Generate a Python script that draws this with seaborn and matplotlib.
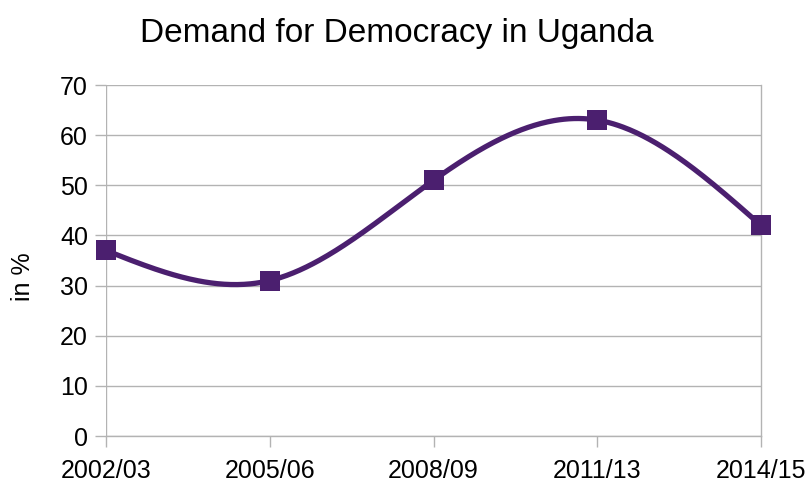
import numpy as np
import pandas as pd
import seaborn as sns
import matplotlib.pyplot as plt

periods = ["2002/03", "2005/06", "2008/09", "2011/13", "2014/15"]
demand = [37, 31, 51, 63, 42]

line_color = "#4b1f6f"
grid_color = "#b3b3b3"

sns.set_theme(style="white")
plt.rcParams['font.family'] = ['Liberation Sans', 'DejaVu Sans']
plt.rcParams['text.color'] = 'black'
plt.rcParams['axes.labelcolor'] = 'black'

df = pd.DataFrame({"pos": np.arange(len(periods)), "Period": periods, "Value": demand})


def natural_spline(x, y, n=400):
    # natural cubic spline through the points (smoothed line like the office chart)
    x = np.asarray(x, float)
    y = np.asarray(y, float)
    k = len(x)
    h = np.diff(x)
    A = np.zeros((k, k))
    b = np.zeros(k)
    A[0, 0] = A[-1, -1] = 1
    for i in range(1, k - 1):
        A[i, i - 1] = h[i - 1]
        A[i, i] = 2 * (h[i - 1] + h[i])
        A[i, i + 1] = h[i]
        b[i] = 3 * ((y[i + 1] - y[i]) / h[i] - (y[i] - y[i - 1]) / h[i - 1])
    c = np.linalg.solve(A, b)
    xs = np.linspace(x[0], x[-1], n)
    idx = np.clip(np.searchsorted(x, xs) - 1, 0, k - 2)
    dx = xs - x[idx]
    bb = (y[idx + 1] - y[idx]) / h[idx] - h[idx] * (2 * c[idx] + c[idx + 1]) / 3
    dd = (c[idx + 1] - c[idx]) / (3 * h[idx])
    ys = y[idx] + bb * dx + c[idx] * dx ** 2 + dd * dx ** 3
    return xs, ys


fig = plt.figure(figsize=(8.1, 4.83), dpi=100)
ax = fig.add_axes([0.1309, 0.0973, 0.8086, 0.7267])

xs, ys = natural_spline(df["pos"], df["Value"])
ax.plot(xs, ys, color=line_color, lw=3.8, solid_capstyle="round", zorder=3, clip_on=False)
sns.scatterplot(data=df, x="pos", y="Value", marker="s", s=200, color=line_color,
                edgecolor=line_color, linewidth=0, ax=ax, zorder=4, clip_on=False)

ax.set_xlim(0, len(periods) - 1)
ax.set_ylim(0, 70)
ax.set_yticks(range(0, 71, 10))
ax.set_xticks(df["pos"])
ax.set_xticklabels(periods)
ax.yaxis.grid(True, color=grid_color, lw=1)
ax.set_axisbelow(True)

for side in ["top", "left"]:
    ax.spines[side].set_visible(False)
for side in ["bottom", "right"]:
    ax.spines[side].set_color(grid_color)
    ax.spines[side].set_linewidth(1)
ax.axvline(0, color=grid_color, lw=1, zorder=1)

ax.tick_params(axis="both", which="major", length=8, width=1, color=grid_color,
               labelsize=18, labelcolor="black", direction="out")
ax.tick_params(axis="y", left=True, pad=5)
ax.tick_params(axis="x", bottom=True, pad=8.5)

ax.set_xlabel("")
ax.set_ylabel("in %", fontsize=18, color="black")
ax.yaxis.set_label_coords(-0.108, 0.453)
fig.text(0.4895, 1 - 42 / 483, "Demand for Democracy in Uganda", fontsize=24,
         ha="center", va="baseline", color="black")

fig.savefig("out.png", dpi=100)
